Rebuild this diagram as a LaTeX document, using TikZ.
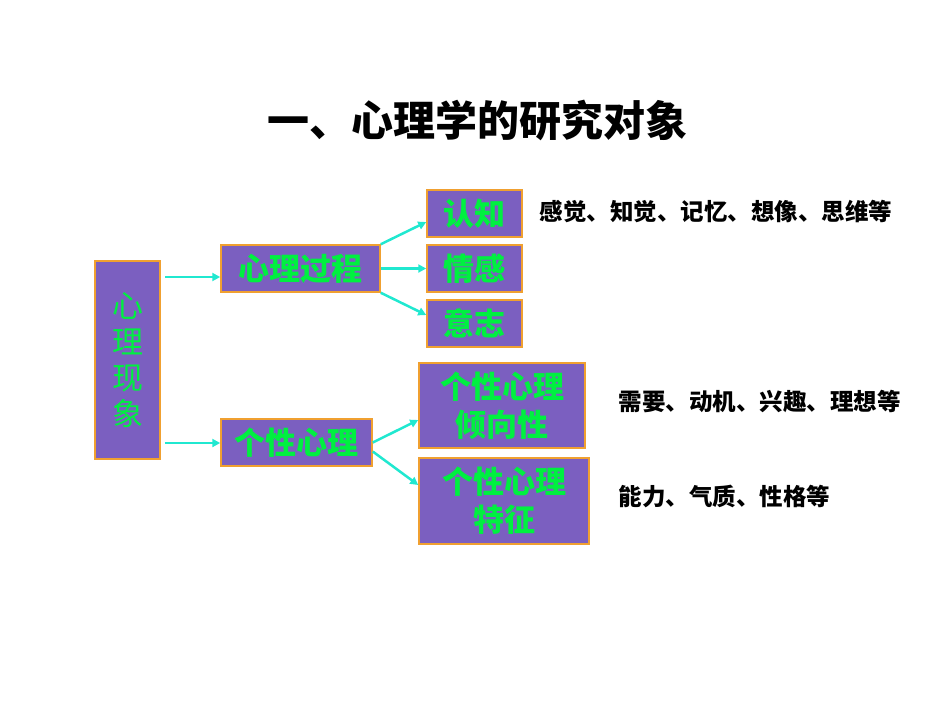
\documentclass[tikz,border=0pt]{standalone}
\usepackage{fontspec}
\newfontfamily\cjk{Noto Sans CJK SC}
\usetikzlibrary{arrows.meta}
\definecolor{boxfill}{HTML}{7B5FC0}
\definecolor{boxline}{HTML}{F0A030}
\definecolor{txtgreen}{HTML}{00F040}
\definecolor{arr}{HTML}{20E8D0}
\begin{document}
\begin{tikzpicture}[x=1pt,y=-1pt,
  box/.style={draw=boxline,line width=1.5pt,fill=boxfill,text=txtgreen,inner sep=0pt,align=center,font=\cjk\bfseries\fontsize{31}{38}\selectfont},
  con/.style={draw=arr,line width=2.5pt,-{Triangle[length=8pt,width=8pt]}},
  lab/.style={anchor=west,font=\cjk\bfseries\fontsize{23.5}{27}\selectfont}]
\useasboundingbox (0,0) rectangle (950,713);
\node[lab,anchor=center,font=\cjk\bfseries\fontsize{42}{48}\selectfont] (title) at (477,120) {一、心理学的研究对象};
\node[box,minimum width=65pt,minimum height=198pt,font=\cjk\fontsize{31}{36}\selectfont] (a) at (127.5,360) {心\\理\\现\\象};
\node[box,minimum width=159pt,minimum height=47pt] (b) at (300.5,268.5) {心理过程};
\node[box,minimum width=151pt,minimum height=47pt] (c) at (296.5,442.5) {个性心理};
\node[box,minimum width=95pt,minimum height=47pt] (d1) at (474.5,213.5) {认知};
\node[box,minimum width=95pt,minimum height=47pt] (d2) at (474.5,268.5) {情感};
\node[box,minimum width=95pt,minimum height=47pt] (d3) at (474.5,323.5) {意志};
\node[box,minimum width=166pt,minimum height=85pt] (e1) at (502,405.5) {个性心理\\倾向性};
\node[box,minimum width=170pt,minimum height=86pt] (e2) at (504,501) {个性心理\\特征};
\node[lab] (l1) at (536,211) {感觉、知觉、记忆、想像、思维等};
\node[lab] (l2) at (615,401) {需要、动机、兴趣、理想等};
\node[lab] (l3) at (615,496) {能力、气质、性格等};
\coordinate (s1) at (165,277);
\coordinate (s2) at (165,443);
\draw[con] (s1) -- (b.west |- s1);
\draw[con] (s2) -- (c.west |- s2);
\draw[con] (b.north east) -- (d1.west |- 0,222);
\draw[con] (b.east) -- (d2.west);
\draw[con] (b.south east) -- (d3.west |- 0,315);
\draw[con] (c.east) -- (e1.west |- 0,420);
\draw[con] ([yshift=-9pt]c.east) -- (e2.west |- 0,485);
\end{tikzpicture}
\end{document}
